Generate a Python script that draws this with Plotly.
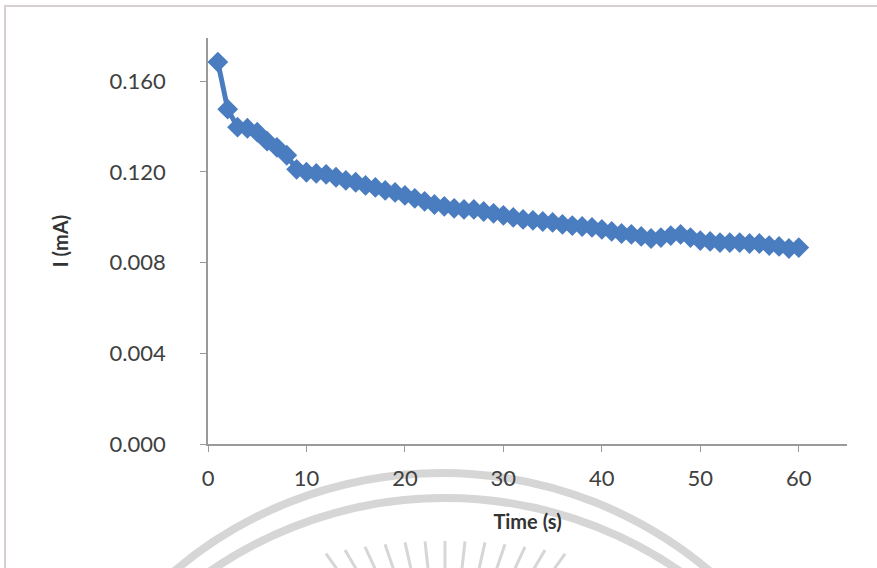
import math
import plotly.graph_objects as go

time_s = list(range(1, 61))
current_mA = [
    0.1684, 0.1476, 0.1397, 0.1392, 0.1375, 0.1335, 0.1308, 0.1273, 0.1211, 0.1198,
    0.1193, 0.1189, 0.1176, 0.1162, 0.1154, 0.1140, 0.1131, 0.1118, 0.1109, 0.1096,
    0.1083, 0.1070, 0.1056, 0.1048, 0.1039, 0.1034, 0.1034, 0.1025, 0.1017, 0.1008,
    0.0999, 0.0990, 0.0986, 0.0981, 0.0977, 0.0968, 0.0963, 0.0959, 0.0955, 0.0946,
    0.0937, 0.0928, 0.0924, 0.0915, 0.0906, 0.0910, 0.0919, 0.0924, 0.0910, 0.0897,
    0.0893, 0.0888, 0.0888, 0.0888, 0.0884, 0.0884, 0.0875, 0.0871, 0.0862, 0.0866,
]
y_tickvals = [0.0, 0.04, 0.08, 0.12, 0.16]
y_ticktext = ["0.000", "0.004", "0.008", "0.120", "0.160"]
x_tickvals = [0, 10, 20, 30, 40, 50, 60]

W, H = 877, 568
L, T = 208, 38
R = W - 847
B = H - 444
pw, ph = W - L - R, H - T - B

def px(x):
    return (x - L) / pw

def py(y):
    return (H - B - y) / ph

fig = go.Figure()
fig.add_trace(go.Scatter(
    x=time_s, y=current_mA, mode="lines+markers",
    line=dict(color="#4A7CC0", width=5),
    marker=dict(symbol="diamond", size=16, color="#4A7CC0"),
    showlegend=False, hoverinfo="skip",
))

WM = "#D6D6D6"
shapes = []
# chart border
shapes.append(dict(type="rect", xref="paper", yref="paper",
                   x0=px(5), x1=px(882), y0=py(640), y1=py(6),
                   line=dict(color="#D8CFD2", width=2), layer="below"))
# watermark arcs
for cx, cy, r in [(442, 887, 414), (445, 911, 413)]:
    shapes.append(dict(type="circle", xref="paper", yref="paper",
                       x0=px(cx - r), x1=px(cx + r), y0=py(cy + r), y1=py(cy - r),
                       line=dict(color=WM, width=8), layer="below"))
# watermark rays
rcx, rcy = 445, 720
for xt in [326, 345, 365, 385, 405, 425, 445, 465, 485, 505, 525, 545, 565]:
    dx = xt - rcx
    yt = 541 + 0.0009 * dx * dx
    vx, vy = rcx - xt, rcy - yt
    n = math.hypot(vx, vy)
    xb, yb = xt + vx / n * 40, yt + vy / n * 40
    shapes.append(dict(type="line", xref="paper", yref="paper",
                       x0=px(xt), y0=py(yt), x1=px(xb), y1=py(yb),
                       line=dict(color=WM, width=3), layer="below"))

fig.update_layout(
    width=W, height=H,
    margin=dict(l=L, r=R, t=T, b=B),
    paper_bgcolor="white", plot_bgcolor="rgba(0,0,0,0)",
    font=dict(family="Lato, Open Sans, sans-serif", color="#333333"),
    shapes=shapes,
    hovermode=False,
    xaxis=dict(
        range=[0, 64.9], tickvals=x_tickvals,
        showgrid=False, zeroline=False, automargin=False,
        showline=True, linecolor="#9A9A9A", linewidth=1.5,
        ticks="outside", ticklen=6, tickcolor="#9A9A9A",
        tickfont=dict(size=22, color="#404040"),
        ticklabelstandoff=8,
        title=dict(text="<b>Time (s)</b>", font=dict(size=20, color="#333333"), standoff=25),
    ),
    yaxis=dict(
        range=[0, 0.179], tickvals=y_tickvals, ticktext=y_ticktext,
        showgrid=False, zeroline=False, automargin=False,
        showline=True, linecolor="#9A9A9A", linewidth=1.5,
        ticks="outside", ticklen=6, tickcolor="#9A9A9A",
        tickfont=dict(size=22, color="#404040"),
        ticklabelstandoff=30,
        title=dict(text="<b>I (mA)</b>", font=dict(size=20, color="#333333"), standoff=36),
    ),
)

fig.write_html("out.html", config={"displayModeBar": False},
               post_script="document.body.style.margin='0px';")
